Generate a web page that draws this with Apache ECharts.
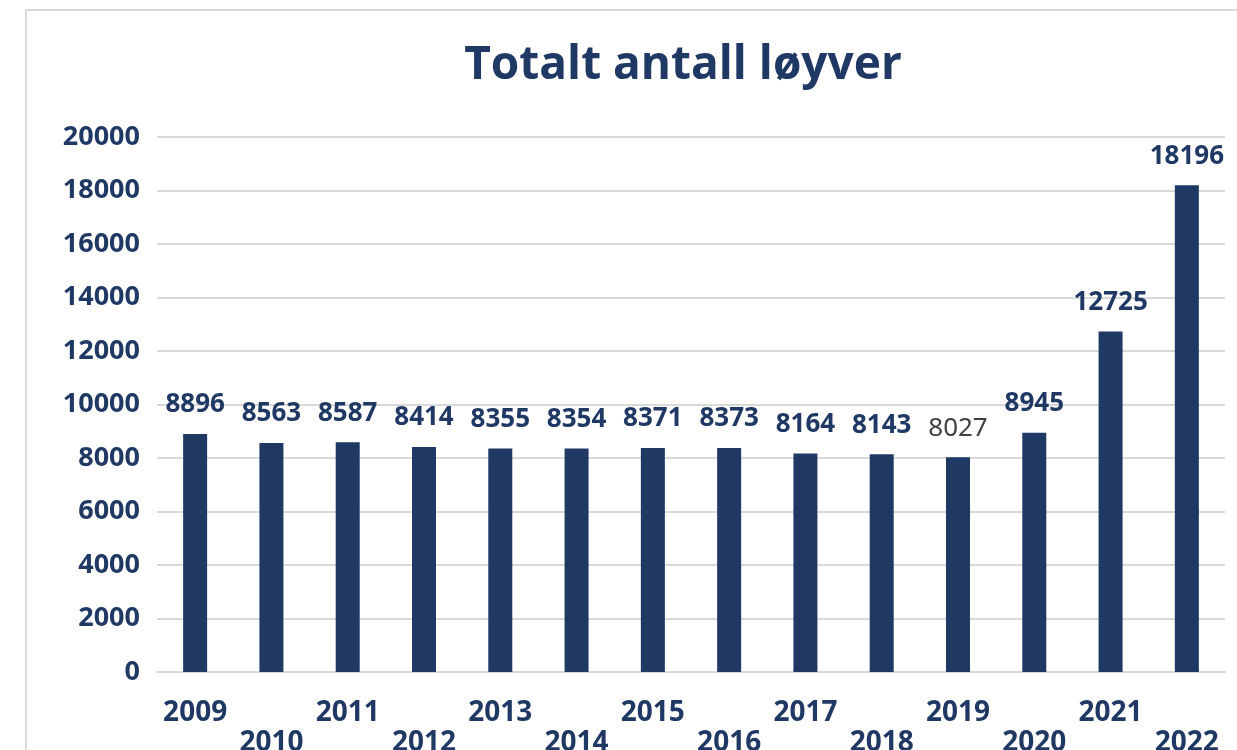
<!DOCTYPE html>
<html>
<head>
<meta charset="utf-8">
<script src="https://cdn.jsdelivr.net/npm/echarts@6/dist/echarts.min.js"></script>
<style>
    html, body { margin: 0; padding: 0; background: #fff; }
    #chart { width: 1237px; height: 750px; }
</style>
</head>
<body>
<div id="chart"></div>
<script>
const years = ['2009','2010','2011','2012','2013','2014','2015','2016','2017','2018','2019','2020','2021','2022'];
const values = [8896, 8563, 8587, 8414, 8355, 8354, 8371, 8373, 8164, 8143, 8027, 8945, 12725, 18196];
const yTicks = [0, 2000, 4000, 6000, 8000, 10000, 12000, 14000, 16000, 18000, 20000];

const navy = '#1f3864';
const font = '"Noto Sans", "Open Sans", sans-serif';

let myChart = echarts.init(document.getElementById('chart'));
let option = {
    animation: false,
    title: {
        text: 'Totalt antall løyver',
        left: 678,
        textAlign: 'center',
        top: 38,
        textStyle: {
            color: navy,
            fontFamily: '"Open Sans", sans-serif',
            fontWeight: 'bold',
            fontSize: 46
        }
    },
    // lys ramme rundt diagrammet
    graphic: [{
        type: 'rect',
        shape: { x: 26, y: 10, width: 1400, height: 900 },
        style: { fill: 'none', stroke: '#d9d9d9', lineWidth: 2 },
        silent: true
    }],
    grid: {
        left: 157,
        right: 12,
        top: 137,
        bottom: 78,
        outerBoundsMode: 'none',
        containLabel: false
    },
    xAxis: {
        type: 'category',
        data: years,
        axisLine: { show: true, lineStyle: { color: '#d9d9d9', width: 2 } },
        axisTick: { show: false },
        axisLabel: {
            margin: 26,
            interval: 0,
            color: navy,
            fontFamily: font,
            fontWeight: 'bold',
            fontSize: 28,
            lineHeight: 30,
            formatter: function (v, i) {
                return i % 2 ? '\n' + v : v;
            }
        }
    },
    yAxis: {
        type: 'value',
        min: 0,
        max: yTicks[yTicks.length - 1],
        interval: 2000,
        axisLine: { show: false },
        axisTick: { show: false },
        splitLine: { show: true, lineStyle: { color: '#d9d9d9', width: 2 } },
        axisLabel: {
            margin: 17,
            color: navy,
            fontFamily: font,
            fontWeight: 'bold',
            fontSize: 27,
            formatter: function (v) { return String(v); }
        }
    },
    series: [{
        type: 'bar',
        barWidth: 24,
        itemStyle: { color: navy },
        label: {
            show: true,
            position: 'top',
            distance: 16,
            color: navy,
            fontFamily: font,
            fontWeight: 'bold',
            fontSize: 26
        },
        data: values.map(function (v, i) {
            if (years[i] === '2019') {
                return { value: v, label: { color: '#404040', fontWeight: 'normal' } };
            }
            return v;
        })
    }]
};
myChart.setOption(option);
</script>
</body>
</html>
